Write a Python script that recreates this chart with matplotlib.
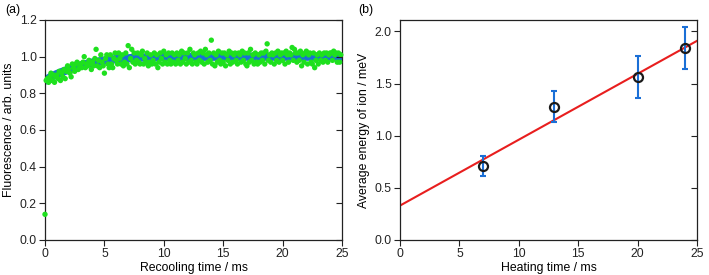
import numpy as np
import matplotlib
matplotlib.use("Agg")
import matplotlib.pyplot as plt

plt.rcParams["font.family"] = ["Liberation Sans", "DejaVu Sans"]
plt.rcParams["font.size"] = 8.8

# panel (a): fluorescence vs recooling time, 0.1 ms steps
recool_vals = [
    0.14, 0.87, 0.88, 0.86, 0.89, 0.91, 0.87, 0.90, 0.86, 0.89,
    0.90, 0.88, 0.92, 0.87, 0.91, 0.89, 0.93, 0.88, 0.92, 0.95,
    0.93, 0.91, 0.89, 0.96, 0.94, 0.92, 0.96, 0.97, 0.93, 0.94,
    0.96, 0.94, 0.97, 1.00, 0.94, 0.96, 0.95, 0.98, 0.96, 0.93,
    0.97, 0.95, 0.99, 1.04, 0.95, 0.98, 0.94, 1.01, 0.97, 0.95,
    0.91, 0.99, 1.01, 0.96, 0.94, 1.01, 0.96, 0.94, 0.99, 1.02,
    0.98, 0.96, 1.02, 0.99, 0.96, 1.01, 0.95, 0.97, 1.02, 0.96,
    1.06, 0.94, 0.99, 1.04, 0.97, 1.02, 0.96, 0.98, 1.02, 0.97,
    0.96, 1.01, 1.03, 0.96, 0.99, 0.97, 1.02, 0.95, 0.97, 1.01,
    0.96, 0.98, 1.02, 0.96, 1.01, 0.94, 0.97, 1.02, 0.99, 0.96,
    1.03, 0.97, 1.01, 0.96, 1.02, 0.98, 0.96, 1.02, 0.97, 1.01,
    0.96, 1.02, 0.98, 1.01, 0.96, 1.03, 0.97, 1.02, 0.99, 0.96,
    1.02, 0.97, 1.04, 0.98, 0.96, 1.02, 1.01, 0.97, 0.96, 1.02,
    0.98, 1.03, 0.97, 1.02, 0.96, 1.04, 1.01, 0.97, 1.02, 0.98,
    1.09, 0.96, 1.02, 0.95, 1.01, 0.97, 1.03, 0.98, 0.96, 1.02,
    0.97, 1.02, 0.95, 1.01, 0.98, 1.03, 0.96, 1.02, 0.97, 1.01,
    1.02, 0.98, 0.96, 1.02, 1.01, 0.97, 1.03, 0.98, 1.02, 0.96,
    0.95, 1.02, 0.97, 1.04, 0.98, 1.01, 0.96, 1.02, 0.97, 0.96,
    1.01, 0.97, 1.02, 0.98, 1.02, 0.96, 1.03, 1.07, 0.98, 1.01,
    0.97, 1.02, 1.01, 0.96, 1.02, 0.98, 1.03, 0.97, 1.01, 1.02,
    0.98, 1.02, 0.96, 1.03, 1.01, 0.97, 1.02, 1.01, 1.05, 0.98,
    1.04, 1.02, 0.97, 1.02, 0.98, 1.03, 0.95, 1.01, 0.97, 1.02,
    1.03, 0.96, 1.01, 1.02, 0.97, 0.96, 1.02, 0.94, 0.98, 1.01,
    0.96, 1.02, 0.98, 1.01, 0.97, 1.02, 0.98, 1.02, 0.97, 1.01,
    1.02, 1.02, 0.98, 1.03, 1.01, 1.02, 0.97, 1.02, 0.97, 1.01,
]
recool_t = [0.1 * i for i in range(len(recool_vals))]

# fitted recovery curve
fit_t = [0, 0.5, 1, 1.5, 2, 3, 4, 5, 6, 8, 10, 15, 20, 25]
fit_y = [0.87, 0.89, 0.905, 0.918, 0.93, 0.952, 0.968, 0.979, 0.987, 0.995, 0.998, 1.0, 1.0, 1.0]

# panel (b): average ion energy vs heating time
heat_t = [7, 13, 20, 24]
energy = [0.71, 1.28, 1.56, 1.84]
energy_err = [0.10, 0.15, 0.20, 0.20]
line_t = [0, 25]
line_e = [0.33, 1.91]

fig = plt.figure(figsize=(7.09, 2.75), dpi=100)
ax1 = fig.add_axes([45 / 709, 35 / 275, 297 / 709, 220 / 275])
ax2 = fig.add_axes([400 / 709, 35 / 275, 297 / 709, 220 / 275])

ax1.plot(fit_t, fit_y, color="#1a6fd6", lw=6, zorder=2)
ax1.scatter(recool_t, recool_vals, s=15, color="#1ee01e", edgecolors="none", zorder=3, clip_on=False)
ax1.set_xlim(0, 25)
ax1.set_ylim(0, 1.2)
ax1.set_xticks([0, 5, 10, 15, 20, 25])
ax1.set_yticks([0.0, 0.2, 0.4, 0.6, 0.8, 1.0, 1.2])
ax1.set_xlabel("Recooling time / ms", labelpad=1)
ax1.set_ylabel("Fluorescence / arb. units", labelpad=3)

ax2.plot(line_t, line_e, color="#e81e1e", lw=1.5, zorder=2)
ax2.errorbar(heat_t, energy, yerr=energy_err, fmt="none", ecolor="#1a6fd6",
             elinewidth=1.5, capsize=2, capthick=1.5, zorder=3)
ax2.plot(heat_t, energy, "o", mfc="none", mec="#1a1a1a", mew=1.6, ms=6.5, zorder=4)
ax2.set_xlim(0, 25)
ax2.set_ylim(0, 2.11)
ax2.set_xticks([0, 5, 10, 15, 20, 25])
ax2.set_yticks([0.0, 0.5, 1.0, 1.5, 2.0])
ax2.set_xlabel("Heating time / ms", labelpad=1)
ax2.set_ylabel("Average energy of ion / meV", labelpad=3)

for ax in (ax1, ax2):
    ax.yaxis.set_major_formatter(matplotlib.ticker.FormatStrFormatter("%.1f"))
    ax.tick_params(direction="out", length=4, width=0.8, pad=2, colors="#222222", labelcolor="#222222")
    for sp in ax.spines.values():
        sp.set_linewidth(0.9)
        sp.set_color("#222222")
    # right-side ticks point inward
    tw = ax.twinx()
    tw.set_ylim(ax.get_ylim())
    tw.set_yticks(ax.get_yticks())
    tw.tick_params(axis="y", direction="in", length=4, width=0.8, labelright=False, colors="#222222")
    tw.spines[:].set_visible(False)

fig.text(5 / 709, 1 - 10 / 275, "(a)", va="center", ha="left")
fig.text(358 / 709, 1 - 10 / 275, "(b)", va="center", ha="left")

fig.savefig("out.png", dpi=100)
